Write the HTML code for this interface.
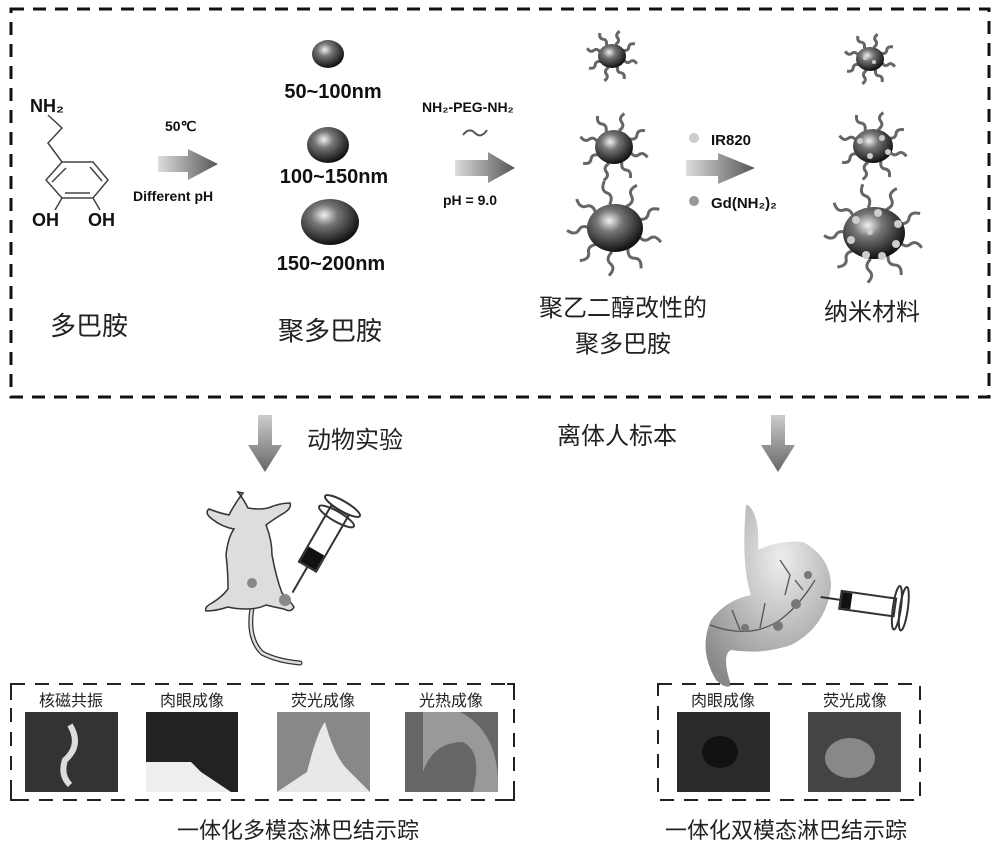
<!DOCTYPE html>
<html><head><meta charset="utf-8"><style>
body{margin:0;background:#fff}
svg{display:block}
.b{font-family:"Liberation Sans",sans-serif;font-weight:bold;fill:#111}
.c{font-family:"Liberation Sans","Noto Sans CJK SC",sans-serif;fill:#222}
</style></head><body>
<svg id="s" width="1000" height="850" viewBox="0 0 1000 850" xmlns="http://www.w3.org/2000/svg">
<defs>
<radialGradient id="sp" cx="0.4" cy="0.35" r="0.65"><stop offset="0" stop-color="#f2f2f2"/><stop offset="0.35" stop-color="#777"/><stop offset="1" stop-color="#111"/></radialGradient>
<linearGradient id="ar" x1="0" x2="1"><stop offset="0" stop-color="#ddd"/><stop offset="1" stop-color="#555"/></linearGradient>
<linearGradient id="dn" x1="0" y1="0" x2="0" y2="1"><stop offset="0" stop-color="#ccc"/><stop offset="1" stop-color="#666"/></linearGradient>
<radialGradient id="st" cx="0.6" cy="0.3" r="0.8"><stop offset="0" stop-color="#eee"/><stop offset="1" stop-color="#888"/></radialGradient>
</defs>
<rect x="11" y="9" width="978" height="388" fill="none" stroke="#111" stroke-width="3" stroke-dasharray="13 9"/>
<!-- dopamine -->
<text class="b" x="30" y="112" font-size="18">NH₂</text>
<polyline points="48,115 62,128 48,143 62,162" fill="none" stroke="#444" stroke-width="1.5"/>
<polygon points="62,162 93,162 108,180 93,198 62,198 46,180" fill="none" stroke="#444" stroke-width="1.5"/>
<line x1="66" y1="168" x2="52" y2="182" stroke="#444" stroke-width="1.5"/>
<line x1="90" y1="167" x2="102" y2="181" stroke="#444" stroke-width="1.5"/>
<line x1="65" y1="193" x2="90" y2="193" stroke="#444" stroke-width="1.5"/>
<line x1="62" y1="198" x2="55" y2="210" stroke="#444" stroke-width="1.5"/>
<line x1="93" y1="198" x2="100" y2="210" stroke="#444" stroke-width="1.5"/>
<text class="b" x="32" y="226" font-size="18">OH</text><text class="b" x="88" y="226" font-size="18">OH</text>
<text class="c" x="50" y="335" font-size="26">多巴胺</text>
<!-- arrow1 -->
<polygon points="158,156 188,156 188,149 218,164 188,180 188,172 158,172" fill="url(#ar)"/>
<text class="b" x="165" y="131" font-size="14">50℃</text>
<text class="b" x="133" y="201" font-size="14">Different pH</text>
<!-- spheres -->
<ellipse cx="328" cy="54" rx="16" ry="14" fill="url(#sp)"/>
<ellipse cx="328" cy="145" rx="21" ry="18" fill="url(#sp)"/>
<ellipse cx="330" cy="222" rx="29" ry="23" fill="url(#sp)"/>
<text class="b" x="333" y="98" font-size="20" text-anchor="middle">50~100nm</text>
<text class="b" x="334" y="183" font-size="20" text-anchor="middle">100~150nm</text>
<text class="b" x="331" y="270" font-size="20" text-anchor="middle">150~200nm</text>
<text class="c" x="278" y="340" font-size="26">聚多巴胺</text>
<!-- arrow2 -->
<text class="b" x="422" y="112" font-size="14">NH₂-PEG-NH₂</text>
<path d="M463,135 q6,-8 12,-2 t12,-3" fill="none" stroke="#555" stroke-width="2"/>
<polygon points="455,160 488,160 488,152 515,168 488,183 488,176 455,176" fill="url(#ar)"/>
<text class="b" x="443" y="205" font-size="14">pH = 9.0</text>
<g id="peg"></g>
<ellipse cx="612" cy="56" rx="14" ry="12" fill="url(#sp)"/>
<ellipse cx="614" cy="147" rx="19" ry="17" fill="url(#sp)"/>
<ellipse cx="615" cy="228" rx="28" ry="24" fill="url(#sp)"/>
<text class="c" x="623" y="316" font-size="24" text-anchor="middle">聚乙二醇改性的</text>
<text class="c" x="623" y="352" font-size="24" text-anchor="middle">聚多巴胺</text>
<circle cx="694" cy="138" r="5" fill="#ccc"/><text class="b" x="711" y="145" font-size="15">IR820</text>
<circle cx="694" cy="201" r="5" fill="#999"/><text class="b" x="711" y="208" font-size="15">Gd(NH₂)₂</text>
<polygon points="686,160 718,160 718,153 755,168 718,184 718,176 686,176" fill="url(#ar)"/>
<ellipse cx="870" cy="59" rx="14" ry="12" fill="url(#sp)"/>
<ellipse cx="873" cy="146" rx="20" ry="17" fill="url(#sp)"/>
<ellipse cx="874" cy="233" rx="31" ry="26" fill="url(#sp)"/>
<g fill="#ccc"><circle cx="865" cy="58" r="2"/><circle cx="874" cy="62" r="2"/><circle cx="860" cy="141" r="3"/><circle cx="882" cy="138" r="3"/><circle cx="870" cy="156" r="3"/><circle cx="888" cy="152" r="3"/><circle cx="856" cy="220" r="4"/><circle cx="851" cy="240" r="4"/><circle cx="866" cy="255" r="4"/><circle cx="882" cy="256" r="4"/><circle cx="896" cy="244" r="4"/><circle cx="898" cy="224" r="4"/><circle cx="878" cy="213" r="4"/><circle cx="870" cy="232" r="3"/></g>
<text class="c" x="872" y="320" font-size="24" text-anchor="middle">纳米材料</text>
<!-- down arrows -->
<polygon points="258,415 272,415 272,445 282,445 265,472 248,445 258,445" fill="url(#dn)"/>
<polygon points="771,415 785,415 785,445 795,445 778,472 761,445 771,445" fill="url(#dn)"/>
<text class="c" x="307" y="448" font-size="24">动物实验</text>
<text class="c" x="557" y="444" font-size="24">离体人标本</text>
<!-- mouse -->
<path d="M252,608 q-5,30 10,45 q15,8 38,10" fill="none" stroke="#333" stroke-width="5" stroke-linecap="round"/>
<path d="M252,608 q-5,30 10,45 q15,8 38,10" fill="none" stroke="#ddd" stroke-width="2.5" stroke-linecap="round"/>
<path d="M238,492 q6,8 10,16 q12,2 20,0 q12,-5 22,-5 q2,5 -6,10 q-10,6 -18,12 q6,15 6,30 q4,22 10,38 q8,8 12,14 q-3,6 -10,2 q-10,-2 -18,-4 q-8,4 -20,4 q-10,0 -18,-2 q-12,4 -22,4 q-2,-4 6,-8 q10,-6 16,-14 q0,-18 -2,-34 q2,-18 8,-26 q-12,-2 -22,-10 q-8,-6 -3,-10 q10,4 20,6 q6,-12 14,-22z" fill="#ddd" stroke="#333" stroke-width="1.5"/>
<circle cx="252" cy="583" r="5" fill="#888"/><circle cx="285" cy="600" r="6" fill="#888"/>
<g transform="rotate(30 320 545)"><rect x="310" y="505" width="20" height="65" fill="#fff" stroke="#333" stroke-width="2"/><rect x="311" y="552" width="18" height="17" fill="#111"/><ellipse cx="320" cy="500" rx="20" ry="5" fill="none" stroke="#333" stroke-width="2"/><ellipse cx="320" cy="512" rx="20" ry="5" fill="none" stroke="#333" stroke-width="2"/><line x1="320" y1="570" x2="320" y2="600" stroke="#333" stroke-width="2"/></g>
<!-- stomach -->
<path d="M748,505 q12,10 10,45 q20,-10 45,-8 q28,15 28,45 q-5,40 -40,58 q-30,10 -60,5 q-10,5 0,35 q-5,5 -15,-5 q-18,-30 -5,-60 q15,-20 40,-25 q-10,-30 -5,-90z" fill="url(#st)"/>
<g stroke="#555" fill="none" stroke-width="1.3"><path d="M710,625 q40,15 70,-5 q20,-15 35,-40"/><path d="M780,560 l10,15 l-5,20 M795,580 l8,10"/><path d="M740,630 l-8,-20 M760,628 l5,-25"/></g>
<g fill="#777"><circle cx="796" cy="604" r="5"/><circle cx="778" cy="626" r="5"/><circle cx="745" cy="628" r="4"/><circle cx="808" cy="575" r="4"/></g>
<g transform="rotate(8 870 605)"><rect x="840" y="595" width="55" height="18" fill="#fff" stroke="#333" stroke-width="2"/><rect x="841" y="596" width="10" height="16" fill="#111"/><ellipse cx="897" cy="604" rx="4" ry="22" fill="none" stroke="#333" stroke-width="2"/><ellipse cx="904" cy="604" rx="4" ry="22" fill="none" stroke="#333" stroke-width="2"/><line x1="820" y1="604" x2="840" y2="604" stroke="#333" stroke-width="2"/></g>
<!-- bottom frames -->
<g fill="none" stroke="#222" stroke-width="2" stroke-dasharray="14 10">
<rect x="11" y="684" width="503" height="116"/>
<rect x="658" y="684" width="262" height="116"/>
</g>
<g fill="none" stroke="#222" stroke-width="2">
<polyline points="18,684 11,684 11,700"/><polyline points="507,684 514,684 514,700"/>
<polyline points="11,785 11,800 18,800"/><polyline points="514,785 514,800 507,800"/>
</g>
<g class="c" font-size="16" text-anchor="middle"><text x="71" y="706">核磁共振</text><text x="192" y="706">肉眼成像</text><text x="323" y="706">荧光成像</text><text x="451" y="706">光热成像</text><text x="723" y="706">肉眼成像</text><text x="855" y="706">荧光成像</text></g>
<rect x="25" y="712" width="93" height="80" fill="#333"/><path d="M70,725 q12,20 -5,35 q-5,15 5,25" stroke="#ddd" stroke-width="6" fill="none"/>
<rect x="146" y="712" width="92" height="80" fill="#222"/><path d="M146,762 h45 l10,10 l30,20 h-85z" fill="#eee"/>
<rect x="277" y="712" width="93" height="80" fill="#888"/><path d="M277,792 l30,-20 q10,-40 18,-50 q8,30 20,45 l25,25z" fill="#e8e8e8"/>
<rect x="405" y="712" width="93" height="80" fill="#666"/><path d="M460,712 q40,20 38,80 l-25,0 q10,-40 -10,-50 q-30,0 -40,30 v-60z" fill="#999"/>
<rect x="677" y="712" width="93" height="80" fill="#2a2a2a"/><ellipse cx="720" cy="752" rx="18" ry="16" fill="#111"/>
<rect x="808" y="712" width="93" height="80" fill="#444"/><ellipse cx="850" cy="758" rx="25" ry="20" fill="#888"/>
<text class="c" x="298" y="838" font-size="22" text-anchor="middle">一体化多模态淋巴结示踪</text>
<text class="c" x="786" y="838" font-size="22" text-anchor="middle">一体化双模态淋巴结示踪</text>
</svg>
<script>
var g=document.getElementById('peg');
function t(cx,cy,r,n,L){var h='';for(var i=0;i<n;i++){var a=i*2*Math.PI/n+0.3,c=Math.cos(a),si=Math.sin(a);var x0=cx+c*r,y0=cy+si*r,x1=cx+c*(r+L),y1=cy+si*(r+L);var px=-si*L*0.25,py=c*L*0.25;h+='<path d="M'+x0+','+y0+' Q'+((x0*2+x1)/3+px)+','+((y0*2+y1)/3+py)+' '+((x0+x1)/2)+','+((y0+y1)/2)+' T'+x1+','+y1+'" fill="none" stroke="#666" stroke-width="3"/>';}return h;}
g.innerHTML=t(612,56,12,8,14)+t(614,147,17,8,18)+t(615,228,24,9,24)+t(870,59,12,8,14)+t(873,146,17,8,18)+t(874,233,26,9,24);
</script>
</body></html>
